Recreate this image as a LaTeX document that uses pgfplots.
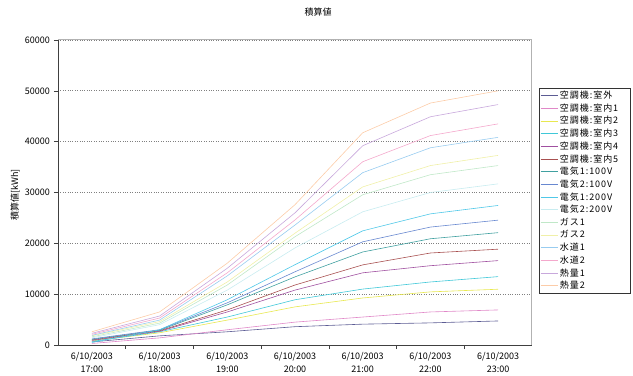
\documentclass[border=0pt]{standalone}
\usepackage{pgfplots}
\pgfplotsset{compat=1.18}
\usepackage{pgfplotstable}
\usepackage{fontspec}
\setmainfont{Noto Sans CJK JP}
\newfontfamily\legfont[LetterSpace=11]{Noto Sans CJK JP}
\definecolor{c1}{HTML}{5C5C94}
\definecolor{c2}{HTML}{E088C8}
\definecolor{c3}{HTML}{E8E850}
\definecolor{c4}{HTML}{40C8D8}
\definecolor{c5}{HTML}{A050A0}
\definecolor{c6}{HTML}{A85050}
\definecolor{c7}{HTML}{40A0A0}
\definecolor{c8}{HTML}{6888D0}
\definecolor{c9}{HTML}{50C8E8}
\definecolor{c10}{HTML}{C8ECF0}
\definecolor{c11}{HTML}{C0E8C8}
\definecolor{c12}{HTML}{F0F0A8}
\definecolor{c13}{HTML}{98CCF0}
\definecolor{c14}{HTML}{F4A8CC}
\definecolor{c15}{HTML}{C8A8DC}
\definecolor{c16}{HTML}{FCCCA8}
\pgfplotstableread{
x  s1   s2   s3    s4    s5    s6    s7    s8    s9    s10   s11   s12   s13   s14   s15   s16
0  600  300  800   700   900   1000  1100  1200  500   1400  1600  1800  1900  2100  2300  2600
1  1800 1400 2400  2600  2700  2800  2900  3000  3000  4000  4300  4600  4900  5300  5700  6500
2  2600 3000 4900  5500  6500  6900  7900  8300  8900  10800 11800 12400 13600 14200 15100 16100
3  3600 4500 7500  8900  10800 11800 13400 14400 15800 19100 21300 22000 23600 24600 26000 27600
4  4100 5500 9250  11000 14200 15760 18300 20300 22460 26200 29550 31100 33900 36050 39200 41750
5  4350 6500 10450 12400 15600 18100 20900 23200 25800 30000 33500 35300 38800 41200 44900 47600
6  4730 6900 10970 13450 16600 18850 22100 24560 27450 31700 35300 37300 40850 43500 47300 50000
}\datatable
\begin{document}
\begin{tikzpicture}
\fontsize{9bp}{11bp}\selectfont
\path (0,0) rectangle (633bp,376bp);
\node[font=\fontsize{9bp}{11bp}\selectfont] at (318bp,364bp) {積算値};
\node[rotate=90,font=\fontsize{9bp}{11bp}\selectfont] at (15bp,181bp) {積算値[kWh]};
\draw[black!80, line width=0.7bp] (539bp,83bp) rectangle (630bp,288bp);
\begin{axis}[
  at={(58bp,31bp)}, anchor=south west,
  width=474bp, height=305bp, scale only axis,
  axis lines=left,
  axis line style={-, draw=black!75, line width=0.8bp},
  xmin=-0.5, xmax=6.5, ymin=0, ymax=60000,
  xtick={0,1,2,3,4,5,6},
  xticklabels={{6/10/2003\\17:00},{6/10/2003\\18:00},{6/10/2003\\19:00},{6/10/2003\\20:00},{6/10/2003\\21:00},{6/10/2003\\22:00},{6/10/2003\\23:00}},
  xticklabel style={align=center, font=\fontsize{9bp}{13bp}\selectfont, yshift=-0.5bp},
  major x tick style={draw=none},
  minor xtick={0.5,1.5,2.5,3.5,4.5,5.5},
  minor x tick style={draw=black!75, line width=0.6bp},
  minor tick length=4bp,
  xtick pos=bottom, ytick pos=left,
  tick align=outside,
  ytick={0,10000,20000,30000,40000,50000,60000},
  major tick length=4bp,
  major y tick style={draw=black!75, line width=0.6bp},
  yticklabel style={font=\fontsize{9bp}{11bp}\selectfont, xshift=-1bp},
  /pgf/number format/1000 sep={},
  /pgf/number format/assume math mode=true,
  scaled y ticks=false,
  ymajorgrids,
  major grid style={draw=black!50, dotted, line width=0.9bp},
  legend cell align=left,
  legend style={at={(1.0148,0.84)}, anchor=north west, draw=none, fill=none,
    font=\legfont\fontsize{9bp}{11bp}\selectfont, inner xsep=1bp, inner ysep=0bp,
    row sep=-0.2bp},
  legend image code/.code={\draw[#1] (0bp,0bp) -- (17bp,0bp);},
  every axis plot/.append style={line width=0.6bp},
  clip=false,
]
\draw[black!30, line width=1bp] (rel axis cs:0,1) -- (rel axis cs:1,1) -- (rel axis cs:1,0);
\addplot[draw=c1] table[x=x,y=s1]{\datatable};
\addlegendentry{空調機:室外}
\addplot[draw=c2] table[x=x,y=s2]{\datatable};
\addlegendentry{空調機:室内1}
\addplot[draw=c3] table[x=x,y=s3]{\datatable};
\addlegendentry{空調機:室内2}
\addplot[draw=c4] table[x=x,y=s4]{\datatable};
\addlegendentry{空調機:室内3}
\addplot[draw=c5] table[x=x,y=s5]{\datatable};
\addlegendentry{空調機:室内4}
\addplot[draw=c6] table[x=x,y=s6]{\datatable};
\addlegendentry{空調機:室内5}
\addplot[draw=c7] table[x=x,y=s7]{\datatable};
\addlegendentry{電気1:100V}
\addplot[draw=c8] table[x=x,y=s8]{\datatable};
\addlegendentry{電気2:100V}
\addplot[draw=c9] table[x=x,y=s9]{\datatable};
\addlegendentry{電気1:200V}
\addplot[draw=c10] table[x=x,y=s10]{\datatable};
\addlegendentry{電気2:200V}
\addplot[draw=c11] table[x=x,y=s11]{\datatable};
\addlegendentry{ガス1}
\addplot[draw=c12] table[x=x,y=s12]{\datatable};
\addlegendentry{ガス2}
\addplot[draw=c13] table[x=x,y=s13]{\datatable};
\addlegendentry{水道1}
\addplot[draw=c14] table[x=x,y=s14]{\datatable};
\addlegendentry{水道2}
\addplot[draw=c15] table[x=x,y=s15]{\datatable};
\addlegendentry{熱量1}
\addplot[draw=c16] table[x=x,y=s16]{\datatable};
\addlegendentry{熱量2}
\end{axis}
\end{tikzpicture}
\end{document}
